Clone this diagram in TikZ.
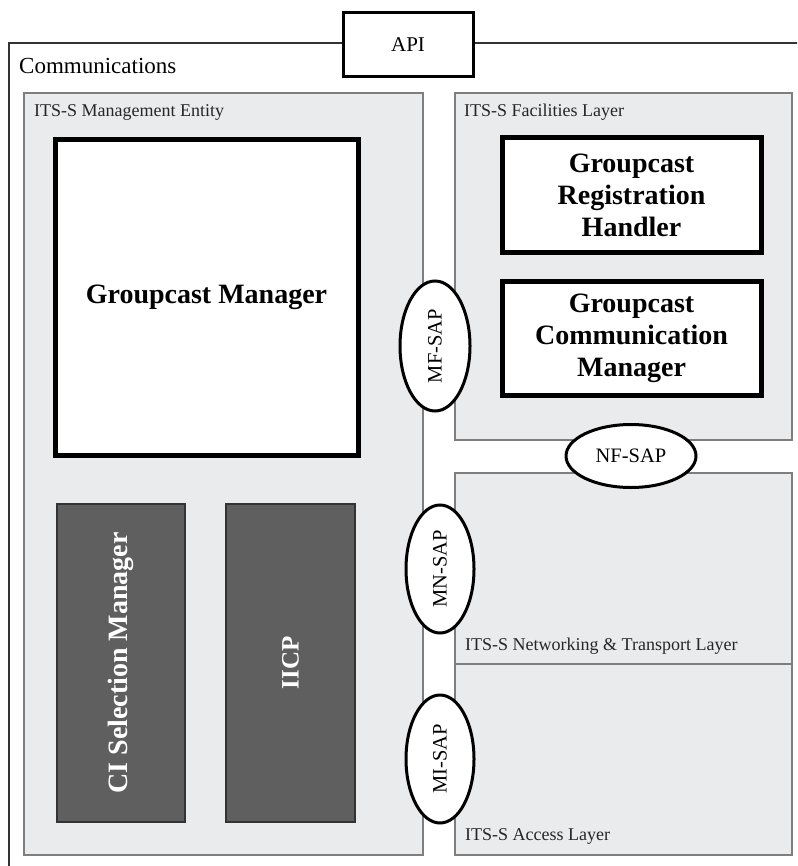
\documentclass[tikz,border=0pt]{standalone}
\usepackage{fontspec}
\setmainfont{Liberation Serif}
\usepackage{xcolor}
\usepackage{tikz}
\usetikzlibrary{shapes.geometric}
\definecolor{layergray}{HTML}{EAEBEC}
\definecolor{layeredge}{HTML}{7E7E7E}
\definecolor{blockgray}{HTML}{5F5F5F}

\tikzset{
  layer/.style={draw=layeredge, fill=layergray, line width=1.2pt, inner sep=0pt, outer sep=0pt},
  lbl/.style={anchor=base west, inner sep=0pt, font=\fontsize{18}{20}\selectfont, text=black!85},
  block/.style={draw=black, fill=white, line width=5pt, inner sep=0pt, align=center,
    font=\fontsize{28}{32}\selectfont\bfseries},
  darkblock/.style={draw=black!80, fill=blockgray, line width=1.2pt, inner sep=0pt, rotate=90,
    text=white, font=\fontsize{28}{32}\selectfont\bfseries},
  sap/.style={ellipse, draw=black, fill=white, line width=3pt, inner sep=0pt,
    font=\fontsize{20.5}{22}\selectfont}
}

\begin{document}
\begin{tikzpicture}[x=1pt, y=-1pt]
    \clip (0, 0) rectangle (797, 866);
    \fill[white] (0, 0) rectangle (797, 866);
    % outer frame
    \draw[line width=1.3pt, black!80] (9, 880) -- (9, 43) -- (810, 43);
    \node[draw=black, fill=white, line width=3pt, minimum width=130pt, minimum height=64pt,
      font=\fontsize{21}{24}\selectfont] (api) at (408, 45) {API};
    \node[anchor=base west, inner sep=0pt, font=\fontsize{23}{26}\selectfont] (comm) at (19, 74) {Communications};

    \node[layer, minimum width=399pt, minimum height=762pt] (mgmt) at (223.5, 474) {};
    \node[lbl] (mgmtl) at (34, 117) {ITS-S Management Entity};
    \node[block, minimum width=303pt, minimum height=315pt] (gm) at (206.5, 297.5) {Groupcast Manager};
    \node[darkblock, minimum width=318pt, minimum height=128pt] (cism) at (121, 663) {CI Selection Manager};
    \node[darkblock, minimum width=318pt, minimum height=129pt,
      font=\fontsize{25}{28}\selectfont\bfseries] (iicp) at (290.5, 663) {IICP};

    \node[layer, minimum width=337pt, minimum height=347pt] (fac) at (623.5, 266.5) {};
    \node[lbl] (facl) at (464, 117) {ITS-S Facilities Layer};
    \node[block, minimum width=259pt, minimum height=115pt] (grh) at (631.5, 195.5) {Groupcast\\Registration\\Handler};
    \node[block, minimum width=259pt, minimum height=114pt] (gcm) at (631.5, 338) {Groupcast\\Communication\\Manager};

    \node[layer, minimum width=337pt, minimum height=191pt] (net) at (623.5, 568.5) {};
    \node[lbl] (netl) at (465, 650) {ITS-S Networking \& Transport Layer};
    \node[layer, minimum width=337pt, minimum height=191pt] (acc) at (623.5, 759.5) {};
    \node[lbl] (accl) at (465, 840) {ITS-S Access Layer};

    \node[sap, rotate=90, minimum width=130pt, minimum height=70pt] (mfsap) at (435, 346) {MF-SAP};
    \node[sap, minimum width=130pt, minimum height=63pt] (nfsap) at (631, 456) {NF-SAP};
    \node[sap, rotate=90, minimum width=128pt, minimum height=68pt] (mnsap) at (440, 569) {MN-SAP};
    \node[sap, rotate=90, minimum width=128pt, minimum height=68pt] (misap) at (440, 759) {MI-SAP};
\end{tikzpicture}
\end{document}
